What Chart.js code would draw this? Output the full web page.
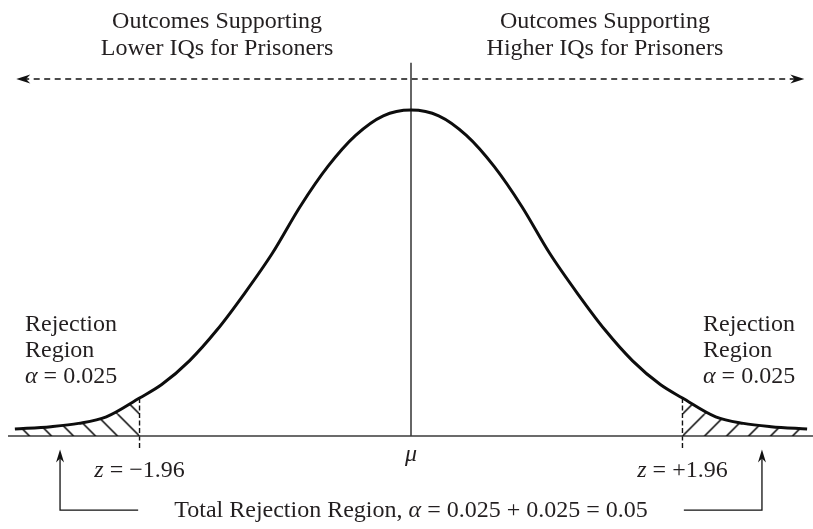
<!DOCTYPE html>
<html>
<head>
<meta charset="utf-8">
<script src="https://cdn.jsdelivr.net/npm/chart.js@4.4.1/dist/chart.umd.min.js"></script>
<style>
  html, body { margin: 0; padding: 0; background: #ffffff; }
  #wrap { width: 813px; height: 529px; }
</style>
</head>
<body>
<div id="wrap"><canvas id="c" width="813" height="529"></canvas></div>
<script>
// ---------- data ----------
const zPoints = [-2.86, -2.6, -2.4, -2.2, -1.96, -1.8, -1.6, -1.4, -1.2, -1.0, -0.8, -0.6, -0.4, -0.2, 0,
                  0.2, 0.4, 0.6, 0.8, 1.0, 1.2, 1.4, 1.6, 1.8, 1.96, 2.2, 2.4, 2.6, 2.86];
const densityValues = [0.0086, 0.0115, 0.0155, 0.0235, 0.0465, 0.063, 0.092, 0.13, 0.175, 0.224, 0.281, 0.330, 0.368, 0.392, 0.399,
                       0.392, 0.368, 0.330, 0.281, 0.224, 0.175, 0.13, 0.092, 0.063, 0.0465, 0.0235, 0.0155, 0.0115, 0.0086];
const criticalZ = [-1.96, 1.96];
const meanZ = 0;
const topLeftLabel = ["Outcomes Supporting", "Lower IQs for Prisoners"];
const topRightLabel = ["Outcomes Supporting", "Higher IQs for Prisoners"];
const regionLabel = ["Rejection", "Region"];
const alphaTail = "0.025";
const zLabels = ["\u22121.96", "+1.96"];
const totalLabel = ["Total Rejection Region, ", "\u03B1", " = 0.025 + 0.025 = 0.05"];

// ---------- helpers ----------
const curvePts = zPoints.map((z, i) => ({ x: z, y: densityValues[i] }));
const leftTail = curvePts.filter(p => p.x <= criticalZ[0]);
const rightTail = curvePts.filter(p => p.x >= criticalZ[1]);
const critDensity = densityValues[zPoints.indexOf(criticalZ[1])];

function makeHatch(dir) {
  const s = 22;
  const c = document.createElement('canvas');
  c.width = s; c.height = s;
  const g = c.getContext('2d');
  g.strokeStyle = '#000';
  g.lineWidth = 1.5;
  g.beginPath();
  for (let k = -1; k <= 1; k++) {
    if (dir === 'back') { g.moveTo(k * s, 0); g.lineTo(k * s + s, s); }
    else { g.moveTo(k * s + s, 0); g.lineTo(k * s, s); }
  }
  g.stroke();
  return g.createPattern(c, 'repeat');
}
const leftPattern = makeHatch('back');
const rightPattern = makeHatch('fwd');

const FONT = '"Liberation Serif", "DejaVu Serif", serif';
const TXT = '#231f20';

function drawRuns(ctx, runs, x, y, align, size) {
  let w = 0;
  runs.forEach(r => { ctx.font = (r.it ? 'italic ' : '') + size + 'px ' + FONT; w += ctx.measureText(r.t).width; });
  let cx = align === 'center' ? x - w / 2 : x;
  ctx.textAlign = 'left';
  ctx.textBaseline = 'alphabetic';
  ctx.fillStyle = TXT;
  runs.forEach(r => {
    ctx.font = (r.it ? 'italic ' : '') + size + 'px ' + FONT;
    ctx.fillText(r.t, cx, y);
    cx += ctx.measureText(r.t).width;
  });
}

function arrowHead(ctx, tx, ty, dx, dy, len, half) {
  const px = -dy, py = dx;
  ctx.beginPath();
  ctx.moveTo(tx, ty);
  ctx.lineTo(tx - dx * len + px * half, ty - dy * len + py * half);
  ctx.lineTo(tx - dx * len * 0.7, ty - dy * len * 0.7);
  ctx.lineTo(tx - dx * len - px * half, ty - dy * len - py * half);
  ctx.closePath();
  ctx.fillStyle = '#111';
  ctx.fill();
}

const annot = {
  id: 'annot',
  beforeDraw(chart) {
    const { ctx, width, height } = chart;
    ctx.save();
    ctx.fillStyle = '#ffffff';
    ctx.fillRect(0, 0, width, height);
    ctx.restore();
    const { x, y } = chart.scales;
    const y0 = y.getPixelForValue(0);
    leftPattern.setTransform(new DOMMatrix([1, 0, 0, 1, x.getPixelForValue(criticalZ[0]), y0]));
    rightPattern.setTransform(new DOMMatrix([1, 0, 0, 1, x.getPixelForValue(criticalZ[1]), y0]));
  },
  afterDatasetsDraw(chart) {
    const { ctx } = chart;
    const { x, y } = chart.scales;
    ctx.save();
    // dashed arrow heads
    const ya = y.getPixelForValue(0.437);
    arrowHead(ctx, x.getPixelForValue(-2.85), ya, -1, 0, 14, 4.5);
    arrowHead(ctx, x.getPixelForValue(2.84), ya, 1, 0, 14, 4.5);
    // bottom arrow heads
    const yt = y.getPixelForValue(-0.0165);
    arrowHead(ctx, x.getPixelForValue(-2.534), yt, 0, -1, 13, 4);
    arrowHead(ctx, x.getPixelForValue(2.534), yt, 0, -1, 13, 4);

    const S = 24;
    const xl = x.getPixelForValue(-1.4), xr = x.getPixelForValue(1.4);
    drawRuns(ctx, [{ t: topLeftLabel[0] }], xl, 28, 'center', S);
    drawRuns(ctx, [{ t: topLeftLabel[1] }], xl, 55, 'center', S);
    drawRuns(ctx, [{ t: topRightLabel[0] }], xr, 28, 'center', S);
    drawRuns(ctx, [{ t: topRightLabel[1] }], xr, 55, 'center', S);

    [25, 703].forEach(lx => {
      drawRuns(ctx, [{ t: regionLabel[0] }], lx, 331, 'left', S);
      drawRuns(ctx, [{ t: regionLabel[1] }], lx, 357, 'left', S);
      drawRuns(ctx, [{ t: '\u03B1', it: true }, { t: ' = ' + alphaTail }], lx, 383, 'left', S);
    });

    drawRuns(ctx, [{ t: 'z', it: true }, { t: ' = ' + zLabels[0] }], x.getPixelForValue(criticalZ[0]), 477, 'center', S);
    drawRuns(ctx, [{ t: 'z', it: true }, { t: ' = ' + zLabels[1] }], x.getPixelForValue(criticalZ[1]), 477, 'center', S);
    drawRuns(ctx, [{ t: '\u03BC', it: true }], x.getPixelForValue(meanZ), 461, 'center', S);
    drawRuns(ctx, [{ t: totalLabel[0] }, { t: totalLabel[1], it: true }, { t: totalLabel[2] }], x.getPixelForValue(meanZ), 517, 'center', S);
    ctx.restore();
  }
};

const lineDs = (data, extra) => Object.assign({
  data, borderColor: '#222', borderWidth: 1.3, pointRadius: 0, fill: false, tension: 0
}, extra);

new Chart(document.getElementById('c'), {
  type: 'line',
  data: {
    datasets: [
      lineDs(curvePts, { borderColor: '#0d0d0d', borderWidth: 3, cubicInterpolationMode: 'monotone' }),
      lineDs(leftTail, { borderWidth: 0, borderColor: 'rgba(0,0,0,0)', fill: 'origin', backgroundColor: leftPattern, cubicInterpolationMode: 'monotone' }),
      lineDs(rightTail, { borderWidth: 0, borderColor: 'rgba(0,0,0,0)', fill: 'origin', backgroundColor: rightPattern, cubicInterpolationMode: 'monotone' }),
      lineDs([{ x: -2.91, y: 0 }, { x: 2.91, y: 0 }], { borderColor: '#3a3a3a', borderWidth: 1.4 }),
      lineDs([{ x: meanZ, y: 0 }, { x: meanZ, y: 0.457 }], { borderColor: '#333', borderWidth: 1.5 }),
      lineDs([{ x: criticalZ[0], y: -0.0147 }, { x: criticalZ[0], y: critDensity }], { borderDash: [5, 2.5], borderWidth: 1.4, borderColor: '#111' }),
      lineDs([{ x: criticalZ[1], y: -0.0147 }, { x: criticalZ[1], y: critDensity }], { borderDash: [5, 2.5], borderWidth: 1.4, borderColor: '#111' }),
      lineDs([{ x: -2.80, y: 0.437 }, { x: 2.79, y: 0.437 }], { borderDash: [6, 4.5], borderWidth: 1.4, borderColor: '#111' }),
      lineDs([{ x: -1.97, y: -0.0906 }, { x: -2.534, y: -0.0906 }, { x: -2.534, y: -0.025 }], { borderColor: '#111', borderWidth: 1.3 }),
      lineDs([{ x: 1.97, y: -0.0906 }, { x: 2.534, y: -0.0906 }, { x: 2.534, y: -0.025 }], { borderColor: '#111', borderWidth: 1.3 })
    ]
  },
  options: {
    responsive: false,
    animation: false,
    events: [],
    layout: { padding: 0 },
    plugins: { legend: { display: false }, tooltip: { enabled: false } },
    scales: {
      x: { type: 'linear', display: false, min: -2.9675, max: 2.9025 },
      y: { type: 'linear', display: false, min: -0.1138, max: 0.5337 }
    }
  },
  plugins: [annot]
});
</script>
</body>
</html>
